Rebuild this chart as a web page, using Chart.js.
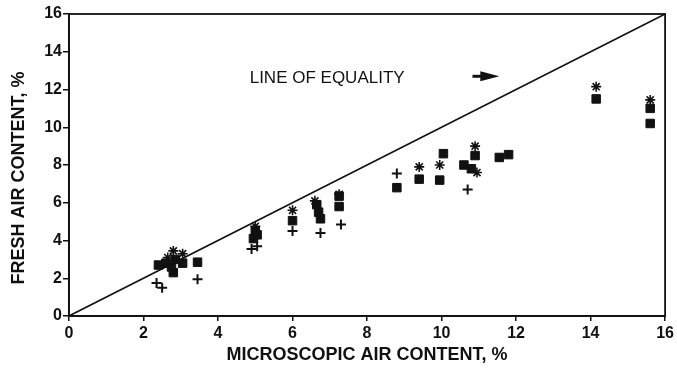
<!DOCTYPE html>
<html>
<head>
<meta charset="utf-8">
<script src="https://cdn.jsdelivr.net/npm/chart.js@4.4.0/dist/chart.umd.min.js"></script>
<style>
  html, body { margin: 0; padding: 0; background: #fff; }
  #wrap { width: 677px; height: 371px; }
</style>
</head>
<body>
<div id="wrap"><canvas id="air-chart"></canvas></div>
<script>
// microscopic vs fresh air content, %
const squareX = [2.4, 2.6, 2.85, 2.8, 3.05, 3.45, 2.75, 4.95, 5.0, 5.05, 6.0, 6.65, 6.7, 6.75, 7.25, 7.25, 8.8, 9.4, 9.95, 10.05, 10.6, 10.8, 10.9, 11.55, 11.8, 14.15, 15.6, 15.6];
const squareY = [2.7, 2.8, 3.0, 2.3, 2.8, 2.85, 2.6, 4.1, 4.5, 4.3, 5.05, 5.9, 5.5, 5.15, 5.8, 6.35, 6.8, 7.25, 7.2, 8.6, 8.0, 7.8, 8.5, 8.4, 8.55, 11.5, 11.0, 10.2];

const plusX = [2.35, 2.5, 3.45, 4.9, 5.05, 6.0, 6.75, 7.3, 8.8, 10.7];
const plusY = [1.75, 1.5, 1.95, 3.55, 3.7, 4.5, 4.4, 4.85, 7.55, 6.7];

const starX = [2.8, 3.05, 2.65, 5.0, 6.0, 6.6, 7.25, 9.4, 9.95, 10.9, 10.95, 14.15, 15.6];
const starY = [3.45, 3.3, 3.1, 4.75, 5.6, 6.1, 6.45, 7.9, 8.0, 9.0, 7.6, 12.15, 11.45];

const equality = [0, 16];
const tickValues = [0, 2, 4, 6, 8, 10, 12, 14, 16];

const ink = "#111";
const family = "'Liberation Sans', Arial, sans-serif";
const pts = (xs, ys) => xs.map((x, i) => ({x: x, y: ys[i]}));

// frame around the plot, y title, and the "line of equality" note with its arrow
const framePlugin = {
    id: "frame",
    afterDatasetsDraw(chart) {
        const {ctx, chartArea: a, scales: {x, y}} = chart;
        ctx.save();
        ctx.strokeStyle = ink;
        ctx.lineWidth = 1.8;
        ctx.strokeRect(a.left, a.top, a.right - a.left, a.bottom - a.top);

        ctx.fillStyle = ink;
        ctx.textBaseline = "middle";

        ctx.save();
        ctx.translate(19, 178);
        ctx.rotate(-Math.PI / 2);
        ctx.textAlign = "center";
        ctx.font = "bold 18px " + family;
        ctx.fillText("FRESH AIR CONTENT, %", 0, 0);
        ctx.restore();

        ctx.font = "17px " + family;
        ctx.fillText("LINE OF EQUALITY", x.getPixelForValue(4.85), y.getPixelForValue(12.6));

        const ax0 = x.getPixelForValue(10.83);
        const ax1 = x.getPixelForValue(11.55);
        const ay = y.getPixelForValue(12.7);
        ctx.lineWidth = 3;
        ctx.beginPath();
        ctx.moveTo(ax0, ay);
        ctx.lineTo(ax1 - 12, ay);
        ctx.stroke();
        ctx.beginPath();
        ctx.moveTo(ax1, ay);
        ctx.lineTo(ax1 - 19, ay - 5);
        ctx.lineTo(ax1 - 19, ay + 5);
        ctx.closePath();
        ctx.fill();
        ctx.restore();
    }
};

const tickFont = {family: family, size: 16, weight: "bold"};
const titleFont = {family: family, size: 18, weight: "bold"};

(function () {
    "use strict"

    const ctx = document.getElementById("air-chart").getContext("2d");
    new Chart(ctx, {
        type: "scatter",
        data: {
            datasets: [
                {
                    label: "Equality",
                    type: "line",
                    data: pts(equality, equality),
                    borderColor: ink,
                    borderWidth: 1.6,
                    pointRadius: 0,
                    fill: false,
                },
                {
                    label: "Squares",
                    data: pts(squareX, squareY),
                    pointStyle: "rect",
                    radius: 6,
                    backgroundColor: ink,
                    borderColor: ink,
                    borderWidth: 1,
                },
                {
                    label: "Plus",
                    data: pts(plusX, plusY),
                    pointStyle: "cross",
                    radius: 5,
                    borderColor: ink,
                    borderWidth: 2,
                },
                {
                    label: "Star",
                    data: pts(starX, starY),
                    pointStyle: "star",
                    radius: 5,
                    borderColor: ink,
                    borderWidth: 1.6,
                },
            ],
        },
        options: {
            responsive: true,
            maintainAspectRatio: false,
            animation: false,
            events: [],
            layout: {
                padding: {top: 14, right: 11, left: 0, bottom: 0},
            },
            plugins: {
                legend: {display: false},
                tooltip: {enabled: false},
            },
            scales: {
                x: {
                    type: "linear",
                    min: 0,
                    max: 16,
                    afterFit: (scale) => { scale.height = 55; },
                    afterBuildTicks: (scale) => { scale.ticks = tickValues.map(v => ({value: v})); },
                    ticks: {
                        font: tickFont,
                        color: ink,
                        padding: 3,
                        maxRotation: 0,
                    },
                    grid: {
                        drawOnChartArea: false,
                        drawTicks: true,
                        tickLength: 5,
                        color: ink,
                        lineWidth: 1.5,
                    },
                    border: {display: true, color: ink, width: 1.8},
                    title: {
                        display: true,
                        text: "MICROSCOPIC AIR CONTENT, %",
                        font: titleFont,
                        color: ink,
                        padding: {top: 0, bottom: 5},
                    },
                },
                y: {
                    type: "linear",
                    min: 0,
                    max: 16,
                    afterFit: (scale) => { scale.width = 69; },
                    afterBuildTicks: (scale) => { scale.ticks = tickValues.map(v => ({value: v})); },
                    ticks: {
                        font: tickFont,
                        color: ink,
                        padding: 1,
                    },
                    grid: {
                        drawOnChartArea: false,
                        drawTicks: true,
                        tickLength: 6,
                        color: ink,
                        lineWidth: 1.5,
                    },
                    border: {display: true, color: ink, width: 1.8},
                },
            },
        },
        plugins: [framePlugin],
    });
})()
</script>
</body>
</html>
